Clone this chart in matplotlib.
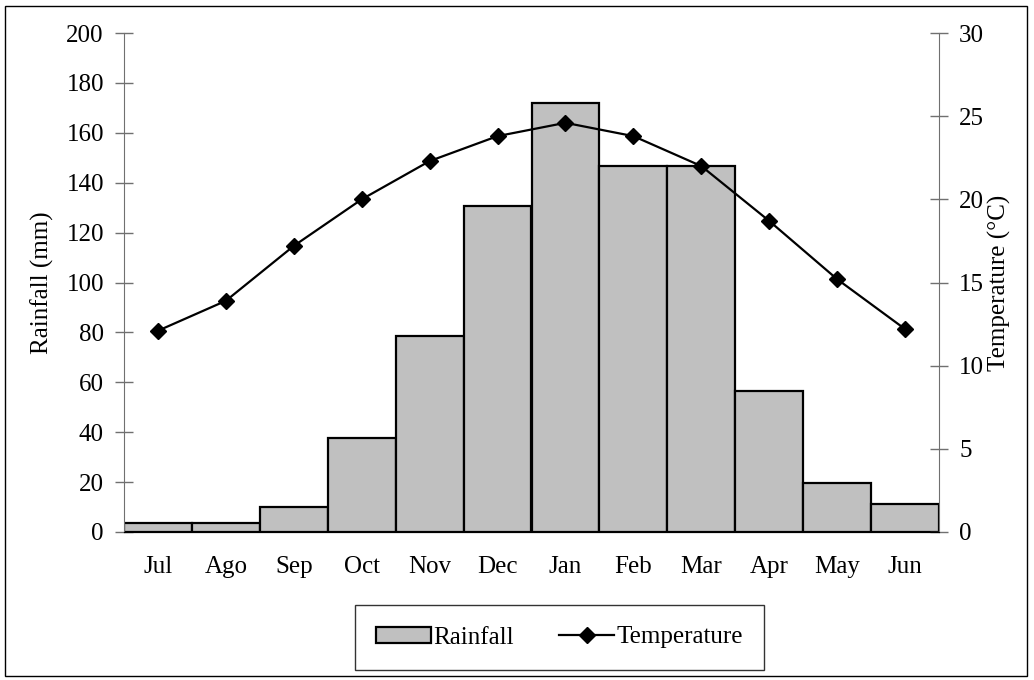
import matplotlib
matplotlib.use('Agg')
import matplotlib.pyplot as plt
from matplotlib.patches import Rectangle

months = ['Jul', 'Ago', 'Sep', 'Oct', 'Nov', 'Dec', 'Jan', 'Feb', 'Mar', 'Apr', 'May', 'Jun']
rainfall = [3.6, 3.5, 10.2, 37.8, 78.6, 130.8, 171.8, 146.7, 146.7, 56.4, 19.7, 11.2]
temperature = [12.1, 13.9, 17.2, 20.0, 22.3, 23.8, 24.6, 23.8, 22.0, 18.7, 15.2, 12.2]

plt.rcParams['font.family'] = ['Liberation Serif', 'DejaVu Serif']
plt.rcParams['font.size'] = 18

W, H = 1034, 680
fig = plt.figure(figsize=(W / 100, H / 100), dpi=100)
# axes box in pixels: left 124, right 939, top 33, bottom 532
ax1 = fig.add_axes([124 / W, (H - 532) / H, 815 / W, 499 / H])
ax2 = ax1.twinx()

x = list(range(len(months)))
bars = ax1.bar(x, rainfall, width=1.0, color='#c0c0c0', edgecolor='black',
               linewidth=1.6, label='Rainfall', zorder=2)
line, = ax2.plot(x, temperature, color='black', lw=1.6, marker='D', markersize=8,
                 label='Temperature', zorder=3)

ax1.set_xlim(-0.5, 11.5)
ax1.set_ylim(0, 200)
ax2.set_ylim(0, 30)
ax1.set_yticks(range(0, 201, 20))
ax2.set_yticks(range(0, 31, 5))
ax1.set_xticks(x)
ax1.set_xticklabels(months)

ax1.tick_params(axis='x', length=0, pad=17)
ax1.tick_params(axis='y', direction='inout', length=13, width=1, color='#707070', pad=8)
ax2.tick_params(axis='y', direction='inout', length=13, width=1, color='#707070', pad=8)

for ax in (ax1, ax2):
    ax.spines['top'].set_visible(False)
    ax.spines['left'].set_color('#707070')
    ax.spines['right'].set_color('#707070')
    ax.spines['bottom'].set_color('black')
ax2.spines['left'].set_visible(False)
ax1.spines['right'].set_visible(False)

ax1.set_ylabel('Rainfall (mm)', labelpad=9)
ax2.set_ylabel('Temperature (°C)', labelpad=3)

# line above the bars
ax1.set_zorder(1)
ax2.set_zorder(2)
ax2.patch.set_visible(False)

leg = fig.legend([bars, line], ['Rainfall', 'Temperature'], loc='center',
                 bbox_to_anchor=(349 / W, (H - 668) / H, (770 - 349) / W, 61 / H),
                 ncol=2, frameon=True, fancybox=False, edgecolor='black',
                 handlelength=2.2, handleheight=0.6, handletextpad=0.1,
                 columnspacing=1.8, borderpad=0.85, fontsize=18)
leg.get_frame().set_linewidth(1.0)

# outer frame
fig.patches.append(Rectangle((4.5 / W, 4.5 / H), 1022 / W, 670 / H, transform=fig.transFigure,
                             fill=False, edgecolor='black', linewidth=1.0))

plt.savefig('out.png', dpi=100)
plt.close()
